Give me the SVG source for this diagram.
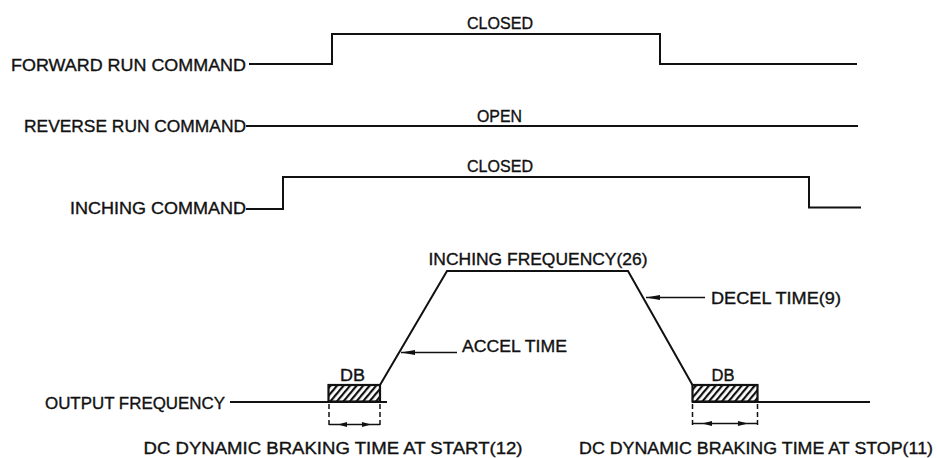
<svg xmlns="http://www.w3.org/2000/svg" width="937" height="458" viewBox="0 0 937 458">
<style>
text{font-family:"Liberation Sans",Arial,sans-serif;font-size:16.5px;fill:#111;stroke:#111;stroke-width:0.35;}
.w{fill:none;stroke:#111;stroke-width:2;stroke-linejoin:miter;}
.l{fill:none;stroke:#111;stroke-width:1.5;}
.d{fill:none;stroke:#111;stroke-width:1.5;stroke-dasharray:5,3;}
.ah{fill:#111;stroke:none;}
.db{fill:url(#hatch);stroke:#111;stroke-width:2.2;}
</style>
<defs>
<pattern id="hatch" width="5" height="5" patternUnits="userSpaceOnUse" patternTransform="rotate(40)">
<rect x="0" y="0" width="2.2" height="5" fill="#111"/>
</pattern>
<marker id="arr" markerWidth="16" markerHeight="8" refX="14" refY="3" orient="auto" markerUnits="userSpaceOnUse">
<path d="M0,0.5 L14,3 L0,5.5 z" class="ah"/>
</marker>
</defs>
<rect width="937" height="458" fill="#fff"/>

<g id="forward-run">
<text x="11" y="70.5" textLength="235" lengthAdjust="spacingAndGlyphs">FORWARD RUN COMMAND</text>
<polyline class="w" points="249,64 332,64 332,34 660,34 660,64 857,64"/>
<text x="467" y="28.5" textLength="66" lengthAdjust="spacingAndGlyphs">CLOSED</text>
</g>

<g id="reverse-run">
<text x="24" y="132" textLength="222" lengthAdjust="spacingAndGlyphs">REVERSE RUN COMMAND</text>
<line class="w" x1="246" y1="126" x2="858" y2="126"/>
<text x="477" y="121.5" textLength="45" lengthAdjust="spacingAndGlyphs">OPEN</text>
</g>

<g id="inching">
<text x="70" y="214" textLength="176" lengthAdjust="spacingAndGlyphs">INCHING COMMAND</text>
<polyline class="w" points="246,209 283,209 283,177 809,177 809,207.5 861,207.5"/>
<text x="467" y="172" textLength="66" lengthAdjust="spacingAndGlyphs">CLOSED</text>
</g>

<g id="output-frequency">
<text x="45" y="408.5" textLength="180" lengthAdjust="spacingAndGlyphs">OUTPUT FREQUENCY</text>
<line class="w" x1="230" y1="402" x2="387" y2="402"/>
<rect class="db" x="328.5" y="385" width="51.5" height="16.5"/>
<polyline class="w" points="380,385 447,271 628,271 692.5,385"/>
<rect class="db" x="692.5" y="385" width="65" height="16.5"/>
<line class="w" x1="692" y1="402" x2="870" y2="402"/>
<text x="340" y="380.5" textLength="25" lengthAdjust="spacingAndGlyphs">DB</text>
<text x="711.5" y="380.5" textLength="23" lengthAdjust="spacingAndGlyphs">DB</text>
<text x="428.5" y="265" textLength="219" lengthAdjust="spacingAndGlyphs">INCHING FREQUENCY(26)</text>
<text x="462" y="351.5" textLength="105" lengthAdjust="spacingAndGlyphs">ACCEL TIME</text>
<text x="711" y="303.5" textLength="130" lengthAdjust="spacingAndGlyphs">DECEL TIME(9)</text>
<text x="143.5" y="454" textLength="379" lengthAdjust="spacingAndGlyphs">DC DYNAMIC BRAKING TIME AT START(12)</text>
<text x="579" y="454" textLength="354" lengthAdjust="spacingAndGlyphs">DC DYNAMIC BRAKING TIME AT STOP(11)</text>
</g>

<g id="connectors">
<line class="l" x1="457" y1="352.5" x2="401" y2="352.5" marker-end="url(#arr)"/>
<line class="l" x1="705" y1="297.5" x2="646" y2="297.5" marker-end="url(#arr)"/>
<line class="d" x1="329" y1="404" x2="329" y2="428"/>
<line class="d" x1="380" y1="404" x2="380" y2="428"/>
<line class="l" x1="329" y1="424.5" x2="380" y2="424.5"/>
<polygon class="ah" points="338,424.5 347,422 347,427"/>
<polygon class="ah" points="371,424.5 362,422 362,427"/>
<line class="d" x1="692.5" y1="404" x2="692.5" y2="427"/>
<line class="d" x1="757.5" y1="404" x2="757.5" y2="427"/>
<line class="l" x1="692.5" y1="423.5" x2="757.5" y2="423.5"/>
<polygon class="ah" points="702,423.5 712,421 712,426"/>
<polygon class="ah" points="748,423.5 738,421 738,426"/>
</g>
</svg>
